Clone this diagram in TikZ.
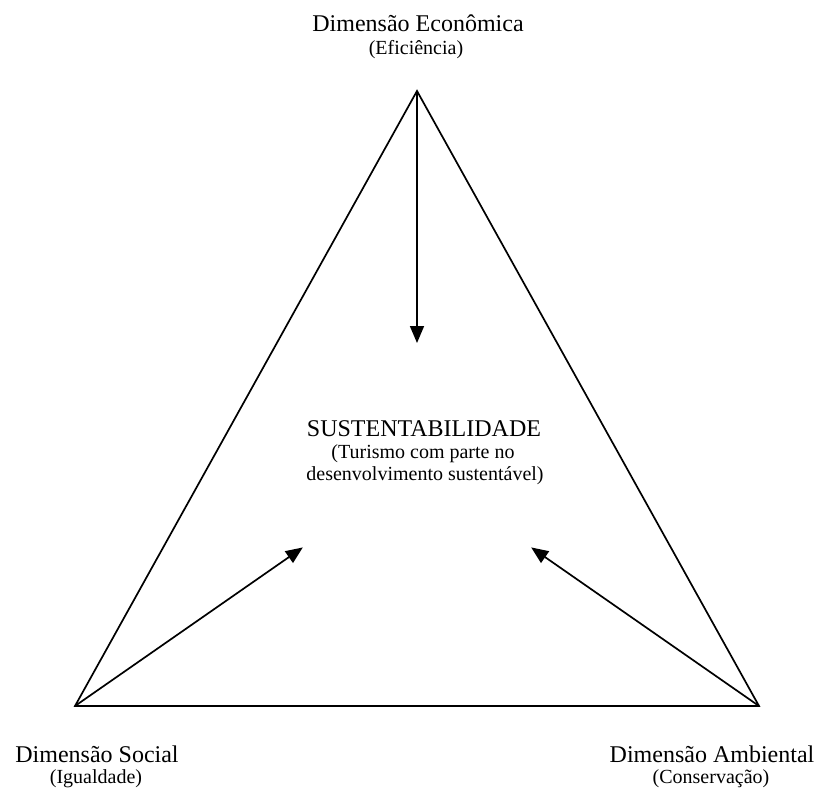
\documentclass[tikz,border=0pt]{standalone}
\usepackage{fontspec}
\setmainfont{Liberation Serif}
\usetikzlibrary{arrows.meta}
\begin{document}
\begin{tikzpicture}[x=1pt,y=-1pt,
  big/.style={font=\fontsize{24}{28}\selectfont, anchor=base, inner sep=0pt},
  small/.style={font=\fontsize{20}{23}\selectfont, anchor=base, inner sep=0pt},
  edge/.style={line width=1.7pt, line join=miter},
  arr/.style={line width=1.7pt, -{Triangle[length=17pt,width=14pt]}, shorten >=-1pt}]
\useasboundingbox (0,0) rectangle (823,789);
\coordinate (T) at (417,91);
\coordinate (L) at (75,706);
\coordinate (R) at (759,706);
\coordinate (aT) at (417,342);
\coordinate (aL) at (302,548);
\coordinate (aR) at (532,548);
\draw[edge] (T) -- (L) -- (R) -- cycle;
\draw[arr] (T) -- (aT);
\draw[arr] (L) -- (aL);
\draw[arr] (R) -- (aR);
\node[big] (eco) at (418,32) {Dimensão Econômica};
\node[small] (efi) at (416,55) {(Eficiência)};
\node[big] (sus) at (424,436) {SUSTENTABILIDADE};
\node[small] (tur1) at (423,458) {(Turismo com parte no};
\node[small] (tur2) at (425,480) {desenvolvimento sustentável)};
\node[big] (soc) at (97,762) {Dimensão Social};
\node[small] (igu) at (96,783) {(Igualdade)};
\node[big] (amb) at (712,762) {Dimensão Ambiental};
\node[small] (con) at (711,783) {(Conservação)};
\end{tikzpicture}
\end{document}
